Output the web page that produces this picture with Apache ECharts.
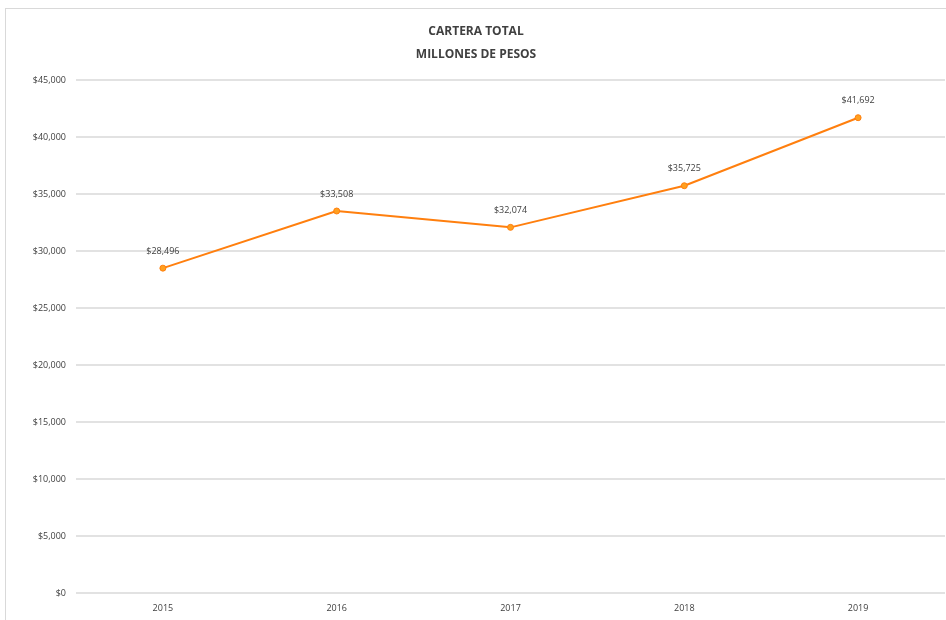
<!DOCTYPE html>
<html>
<head>
<meta charset="utf-8">
<script src="https://cdn.jsdelivr.net/npm/echarts@6/dist/echarts.min.js"></script>
<style>
    html, body { margin: 0; padding: 0; background: #fff; overflow: hidden; }
    #chart { position: absolute; left: 5px; top: 8px; width: 941px; height: 616px; border-left: 1px solid #d9d9d9; border-top: 1px solid #d9d9d9; box-sizing: border-box; }
</style>
</head>
<body>
<div id="chart"></div>
<script>
// datos de la grafica
const years = ['2015', '2016', '2017', '2018', '2019'];
const carteraTotal = [28496, 33508, 32074, 35725, 41692];
const yTicks = [0, 5000, 10000, 15000, 20000, 25000, 30000, 35000, 40000, 45000];

const fmtMoney = v => '$' + v.toLocaleString('en-US');

const chart = echarts.init(document.getElementById('chart'));
chart.setOption({
    animation: false,
    textStyle: { fontFamily: 'Open Sans, sans-serif' },
    title: {
        text: 'CARTERA TOTAL\nMILLONES DE PESOS',
        left: 'center',
        top: 6,
        textStyle: {
            fontSize: 12,
            fontWeight: 'bold',
            color: '#404040',
            lineHeight: 23
        }
    },
    grid: {
        left: 70,
        right: 1,
        top: 71,
        bottom: 31
    },
    xAxis: {
        type: 'category',
        boundaryGap: true,
        data: years,
        axisLine: { show: false },
        axisTick: { show: false },
        axisLabel: { color: '#404040', fontSize: 9, margin: 11 }
    },
    yAxis: {
        type: 'value',
        min: yTicks[0],
        max: yTicks[yTicks.length - 1],
        interval: 5000,
        axisLine: { show: false },
        axisTick: { show: false },
        axisLabel: {
            color: '#404040',
            fontSize: 9,
            margin: 10,
            formatter: fmtMoney
        },
        splitLine: { lineStyle: { color: '#d9d9d9', width: 1.5 } }
    },
    series: [{
        type: 'line',
        data: carteraTotal,
        symbol: 'circle',
        symbolSize: 6,
        lineStyle: { color: '#FF7F0E', width: 2 },
        itemStyle: { color: '#FFA020', borderColor: '#FF7F0E', borderWidth: 1 },
        label: {
            show: true,
            position: 'top',
            distance: 9,
            fontSize: 9,
            color: '#404040',
            formatter: p => fmtMoney(p.value)
        }
    }]
});
</script>
</body>
</html>
